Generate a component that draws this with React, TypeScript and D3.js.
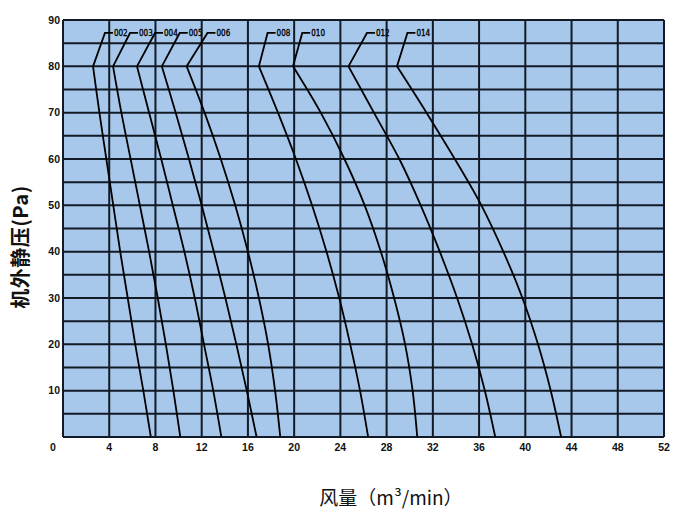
import React from 'react';
import * as d3 from 'd3';

const models = ['002', '003', '004', '005', '006', '008', '010', '012', '014'];
const pressureLevels = [80, 70, 60, 50, 40, 30, 20, 10, 0];
const topPressure = 87.2;
const topFlow = [3.63, 5.8, 7.96, 10.1, 12.5, 17.7, 20.7, 26.3, 29.8];

const flow002 = [2.6, 3.15, 3.75, 4.35, 4.95, 5.6, 6.25, 6.95, 7.6];
const flow003 = [4.33, 5.05, 5.85, 6.65, 7.45, 8.2, 8.9, 9.55, 10.15];
const flow004 = [6.4, 7.45, 8.5, 9.5, 10.5, 11.4, 12.2, 13.0, 13.7];
const flow005 = [8.55, 9.75, 10.9, 12.0, 13.05, 14.05, 15.0, 15.9, 16.75];
const flow006 = [10.7, 12.25, 13.65, 14.9, 16.0, 16.95, 17.75, 18.35, 18.8];
const flow008 = [16.95, 18.6, 20.15, 21.55, 22.8, 23.9, 24.85, 25.7, 26.4];
const flow010 = [19.9, 22.3, 24.35, 26.1, 27.5, 28.65, 29.6, 30.25, 30.65];
const flow012 = [24.7, 26.9, 29.1, 30.95, 32.6, 34.1, 35.4, 36.5, 37.4];
const flow014 = [28.9, 31.45, 33.9, 36.2, 38.1, 39.75, 41.1, 42.2, 43.1];

const flows = [flow002, flow003, flow004, flow005, flow006, flow008, flow010, flow012, flow014];

const xTicks = [0, 4, 8, 12, 16, 20, 24, 28, 32, 36, 40, 44, 48, 52];
const yTicks = [10, 20, 30, 40, 50, 60, 70, 80, 90];
const yGrid = d3.range(0, 91, 5);

const xTitle = '风量（m³/min）';
const yTitle = '机外静压(Pa)';

export default function App() {
  const W = 675, H = 510;
  const x = d3.scaleLinear().domain([0, 52]).range([63, 664]);
  const y = d3.scaleLinear().domain([0, 90]).range([437, 20]);
  const gridColor = '#121a26';
  const curve = d3
    .line<[number, number]>()
    .x((d) => x(d[0]))
    .y((d) => y(d[1]))
    .curve(d3.curveCatmullRom.alpha(0.5));

  return (
    <svg width={W} height={H} style={{ position: 'absolute', left: 0, top: 0, background: '#fff' }}>
      <rect x={x(0)} y={y(90)} width={x(52) - x(0)} height={y(0) - y(90)} fill="#a7c8eb" />
      {yGrid.map((p) => (
        <line key={'h' + p} x1={x(0)} x2={x(52)} y1={y(p)} y2={y(p)} stroke={gridColor} strokeWidth={2} />
      ))}
      {xTicks.map((v) => (
        <line key={'v' + v} x1={x(v)} x2={x(v)} y1={y(0)} y2={y(90)} stroke={gridColor} strokeWidth={2} />
      ))}
      {flows.map((f, i) => {
        const pts: [number, number][] = pressureLevels.map((p, j) => [f[j], p]);
        const tx = x(topFlow[i]);
        const ty = y(topPressure);
        return (
          <g key={models[i]}>
            <path
              d={`M${tx + 8},${ty}L${tx},${ty}L${x(f[0])},${y(pressureLevels[0])}`}
              fill="none"
              stroke="#000"
              strokeWidth={1.8}
              strokeLinejoin="miter"
            />
            <path d={curve(pts) || ''} fill="none" stroke="#000" strokeWidth={1.8} />
            <text
              x={tx + 9}
              y={ty + 3}
              fontSize={8}
              fontFamily="DejaVu Sans Condensed, DejaVu Sans, sans-serif"
              fill="#000"
              stroke="#000"
              strokeWidth={0.3}
            >
              {models[i]}
            </text>
          </g>
        );
      })}
      {yTicks.map((p) => (
        <text
          key={'yt' + p}
          x={60}
          y={y(p)}
          dy="0.35em"
          textAnchor="end"
          fontSize={10.5}
          fontWeight="bold"
          fontFamily="Liberation Sans, Arial, sans-serif"
          fill="#111"
        >
          {p}
        </text>
      ))}
      {xTicks.map((v) => (
        <text
          key={'xt' + v}
          x={v === 0 ? x(v) - 10 : x(v)}
          y={447}
          dy="0.35em"
          textAnchor="middle"
          fontSize={10.5}
          fontWeight="bold"
          fontFamily="Liberation Sans, Arial, sans-serif"
          fill="#111"
        >
          {v}
        </text>
      ))}
      <text
        x={391}
        y={498}
        dy="0.35em"
        textAnchor="middle"
        fontSize={19}
        fontFamily="Noto Sans CJK SC, sans-serif"
        fill="#111"
      >
        {xTitle}
      </text>
      <text
        transform={`translate(21,247) rotate(-90)`}
        dy="0.35em"
        textAnchor="middle"
        fontSize={20}
        fontWeight="bold"
        letterSpacing={0.5}
        fontFamily="Noto Sans CJK SC, sans-serif"
        fill="#111"
      >
        {yTitle}
      </text>
    </svg>
  );
}
